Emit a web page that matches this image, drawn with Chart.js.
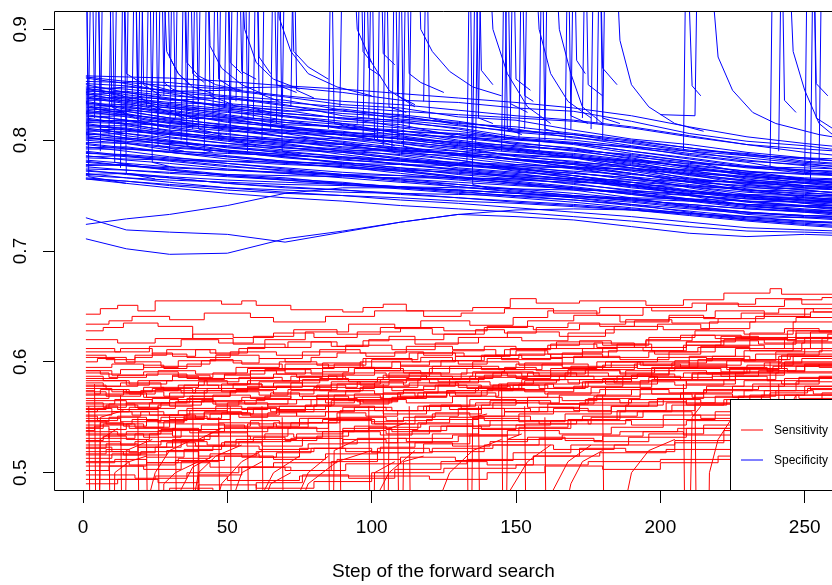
<!DOCTYPE html>
<html><head><meta charset="utf-8">
<script src="https://cdn.jsdelivr.net/npm/chart.js@4/dist/chart.umd.min.js"></script>
<style>html,body{margin:0;padding:0;background:#fff;overflow:hidden}canvas{display:block}</style>
</head><body><canvas id="c" width="832" height="585"></canvas>
<script>
const xTicks = [0, 50, 100, 150, 200, 250];
const yTicks = [0.5, 0.6, 0.7, 0.8, 0.9];
const seriesNames = ['Sensitivity', 'Specificity'];
const seriesColors = ['#ff0000', '#0000ff'];
const xTitle = 'Step of the forward search';

// Specificity: main band lines sampled at these steps
const specSteps = [1,15,30,50,70,90,110,130,150,170,190,210,230,250,262];
const specLines = [
[.858,.857,.856,.853,.849,.846,.842,.838,.834,.829,.822,.812,.803,.797,.794],
[.856,.851,.843,.839,.832,.822,.817,.810,.801,.796,.788,.781,.770,.765,.760],
[.853,.852,.849,.846,.840,.835,.832,.827,.822,.818,.812,.804,.796,.789,.786],
[.850,.843,.838,.829,.822,.815,.806,.799,.791,.784,.775,.765,.756,.748,.745],
[.848,.846,.842,.833,.829,.824,.821,.815,.812,.806,.800,.793,.786,.780,.778],
[.846,.839,.837,.830,.824,.820,.812,.808,.801,.797,.790,.783,.776,.770,.768],
[.844,.844,.840,.837,.834,.830,.826,.823,.820,.817,.811,.803,.796,.792,.790],
[.842,.835,.831,.823,.816,.812,.804,.797,.792,.785,.777,.769,.760,.755,.752],
[.840,.837,.830,.827,.821,.815,.811,.805,.801,.797,.790,.784,.777,.773,.772],
[.838,.833,.826,.820,.811,.805,.797,.790,.783,.775,.767,.757,.749,.743,.740],
[.836,.836,.833,.828,.824,.820,.818,.813,.808,.805,.799,.793,.787,.783,.781],
[.834,.828,.823,.818,.813,.806,.801,.795,.790,.784,.778,.770,.763,.759,.757],
[.832,.830,.824,.817,.811,.807,.803,.796,.792,.788,.782,.776,.770,.766,.765],
[.830,.824,.817,.812,.803,.796,.789,.782,.775,.768,.760,.750,.741,.736,.733],
[.828,.827,.824,.820,.816,.811,.808,.806,.802,.798,.793,.787,.781,.778,.776],
[.826,.821,.815,.810,.803,.799,.793,.788,.782,.776,.770,.762,.755,.751,.749],
[.824,.823,.818,.811,.807,.802,.799,.793,.789,.785,.779,.772,.767,.764,.762],
[.822,.818,.816,.812,.808,.805,.801,.798,.795,.791,.787,.781,.775,.772,.770],
[.820,.815,.808,.801,.796,.790,.784,.779,.772,.766,.759,.751,.744,.740,.738],
[.818,.817,.812,.805,.801,.797,.792,.787,.783,.778,.773,.766,.760,.757,.755],
[.816,.815,.813,.811,.809,.807,.805,.803,.800,.797,.794,.790,.786,.784,.783],
[.814,.809,.805,.799,.793,.789,.783,.778,.774,.768,.762,.755,.749,.746,.744],
[.812,.811,.806,.803,.799,.794,.791,.787,.783,.779,.775,.769,.764,.761,.760],
[.810,.804,.799,.791,.785,.779,.773,.767,.761,.755,.748,.740,.733,.730,.728],
[.808,.808,.805,.801,.798,.796,.793,.790,.787,.784,.781,.777,.772,.769,.768],
[.806,.802,.799,.794,.790,.785,.782,.778,.774,.770,.766,.760,.755,.752,.751],
[.804,.801,.796,.791,.787,.783,.778,.773,.769,.765,.759,.753,.747,.744,.742],
[.802,.799,.797,.795,.793,.791,.790,.788,.786,.784,.782,.779,.776,.775,.774],
[.800,.797,.791,.786,.781,.777,.772,.767,.763,.758,.752,.746,.740,.737,.736],
[.798,.797,.793,.790,.787,.784,.781,.778,.775,.772,.769,.765,.761,.759,.758],
[.796,.792,.789,.785,.781,.778,.774,.770,.767,.763,.759,.754,.750,.748,.747],
[.794,.790,.785,.779,.774,.769,.764,.758,.753,.748,.742,.735,.728,.724,.722],
[.792,.792,.790,.788,.786,.784,.782,.780,.778,.776,.773,.770,.767,.765,.764],
[.790,.786,.783,.779,.775,.771,.768,.764,.760,.756,.752,.747,.742,.740,.739],
[.788,.787,.784,.781,.778,.776,.773,.771,.768,.765,.762,.759,.755,.754,.753],
[.786,.782,.779,.774,.770,.766,.762,.758,.754,.750,.745,.740,.735,.732,.731],
[.784,.783,.782,.781,.780,.779,.778,.777,.776,.775,.774,.773,.771,.770,.770],
[.782,.779,.776,.773,.770,.768,.765,.762,.759,.756,.753,.750,.747,.746,.745],
[.780,.777,.773,.768,.764,.760,.756,.752,.748,.744,.739,.734,.729,.726,.725],
[.778,.777,.775,.773,.771,.769,.768,.766,.764,.762,.760,.758,.757,.756,.756],
[.776,.773,.770,.767,.764,.761,.758,.755,.752,.749,.746,.742,.738,.736,.735],
[.774,.773,.771,.769,.768,.767,.766,.766,.765,.765,.764,.763,.762,.762,.762],
[.772,.770,.767,.764,.762,.760,.757,.755,.752,.750,.747,.745,.742,.741,.741],
[.770,.766,.762,.757,.753,.750,.746,.743,.739,.735,.731,.726,.721,.719,.718],
[.768,.766,.764,.762,.760,.759,.758,.757,.756,.755,.754,.752,.751,.750,.750],
[.766,.763,.759,.755,.752,.750,.748,.745,.743,.740,.737,.734,.731,.730,.730],
[.765,.763,.760,.757,.755,.753,.752,.751,.750,.749,.748,.747,.745,.744,.744],
[.765,.761,.757,.752,.748,.745,.741,.738,.735,.731,.727,.722,.718,.717,.716],
[.724,.729,.733,.741,.752,.757,.757,.755,.752,.748,.744,.739,.735,.732,.731],
[.730,.719,.717,.715,.708,.717,.726,.733,.737,.738,.737,.733,.728,.725,.723],
[.711,.702,.697,.698,.711,.718,.726,.733,.731,.728,.722,.716,.713,.715,.714],
[.857,.853,.852,.847,.848,.843,.836,.834,.829,.826,.817,.806,.799,.795,.791],
[.851,.849,.844,.845,.839,.832,.829,.821,.818,.809,.801,.796,.789,.784,.781],
[.847,.841,.836,.838,.831,.826,.823,.817,.809,.805,.797,.790,.782,.777,.774],
[.845,.848,.845,.840,.836,.827,.819,.816,.810,.802,.798,.791,.788,.781,.779],
[.843,.838,.834,.832,.826,.828,.822,.814,.807,.803,.795,.788,.784,.779,.776],
[.841,.843,.837,.831,.827,.819,.816,.811,.803,.800,.794,.786,.780,.771,.768],
[.839,.834,.829,.825,.822,.817,.814,.803,.798,.792,.786,.778,.772,.765,.761],
[.837,.839,.832,.826,.818,.814,.806,.802,.797,.793,.785,.780,.776,.773,.771],
[.835,.829,.827,.821,.818,.810,.808,.805,.796,.790,.784,.775,.769,.764,.764],
[.833,.832,.829,.822,.814,.812,.809,.800,.794,.791,.783,.776,.768,.761,.758],
[.831,.826,.820,.819,.812,.804,.802,.798,.793,.786,.780,.771,.766,.762,.759],
[.829,.831,.825,.816,.812,.808,.801,.795,.791,.787,.781,.774,.769,.763,.761],
[.827,.823,.819,.814,.806,.805,.797,.792,.786,.780,.777,.773,.765,.759,.755],
[.825,.826,.820,.813,.809,.801,.798,.794,.785,.781,.775,.768,.763,.757,.755],
[.823,.818,.813,.808,.806,.798,.791,.788,.782,.778,.770,.763,.758,.753,.750],
[.821,.822,.816,.809,.803,.801,.795,.786,.783,.779,.772,.764,.762,.758,.757],
[.819,.814,.809,.806,.799,.793,.790,.784,.778,.775,.770,.762,.754,.749,.746],
[.817,.818,.811,.803,.800,.796,.788,.786,.780,.774,.767,.762,.759,.755,.752],
[.815,.810,.806,.800,.795,.792,.786,.779,.777,.771,.764,.758,.751,.746,.743],
[.813,.813,.807,.802,.797,.790,.787,.782,.774,.770,.766,.758,.753,.750,.748],
[.811,.806,.802,.797,.794,.787,.781,.777,.773,.766,.760,.754,.748,.743,.741],
[.809,.810,.803,.797,.791,.789,.783,.775,.771,.768,.762,.754,.750,.747,.746],
[.807,.802,.798,.794,.788,.782,.779,.773,.767,.763,.758,.751,.745,.740,.737],
[.805,.806,.800,.793,.789,.785,.778,.774,.770,.764,.757,.752,.749,.745,.744],
[.803,.798,.794,.790,.784,.780,.775,.769,.765,.761,.754,.747,.741,.737,.734],
[.801,.801,.796,.789,.785,.780,.775,.772,.766,.760,.755,.750,.745,.741,.739],
[.797,.793,.789,.785,.780,.775,.772,.766,.761,.757,.751,.745,.739,.735,.732],
[.793,.794,.789,.783,.779,.776,.770,.765,.762,.757,.751,.746,.742,.738,.736],
[.789,.785,.782,.777,.772,.769,.765,.760,.756,.752,.747,.741,.735,.731,.729],
[.785,.786,.781,.776,.773,.768,.763,.760,.755,.750,.746,.742,.738,.735,.734],
[.781,.777,.774,.769,.766,.761,.758,.754,.749,.746,.741,.736,.731,.727,.725],
[.777,.778,.773,.768,.765,.762,.757,.753,.750,.746,.742,.738,.734,.732,.731],
[.773,.769,.766,.761,.758,.755,.752,.748,.744,.741,.737,.732,.727,.723,.721],
[.769,.770,.766,.761,.757,.755,.751,.748,.745,.742,.738,.734,.730,.727,.726]
];

// Specificity: stretches where a line jumps up to 1 and comes back down ([step, value])
const specSpikes = [
[[1,1],[2,.767],[15,.761]],
[[1,1],[2,.802],[15,.798]],
[[1,1],[3,1],[4,.828],[15,.824]],
[[2,.84],[3,1],[5,1],[6,.845],[14,.84]],
[[4,.82],[5,1],[6,.81],[14,.806]],
[[6,.79],[7,1],[9,1],[10,.83],[18,.82]],
[[9,.805],[10,1],[11,.78],[20,.776]],
[[11,.83],[12,1],[14,1],[15,.86],[20,.852],[30,.845]],
[[13,.775],[14,1],[15,.77],[25,.765]],
[[15,.8],[16,1],[18,1],[19,.84],[25,.83],[35,.82]],
[[17,.83],[18,1],[19,.818],[28,.812]],
[[19,.8],[20,1],[21,.85],[27,.84]],
[[20,.81],[21,1],[23,1],[24,.78],[32,.775]],
[[22,.83],[23,1],[27,1],[29,.88],[33,.86],[38,.848],[45,.842]],
[[24,.845],[25,1],[26,.795],[35,.79]],
[[26,.81],[27,1],[28,.852],[31,.846],[40,.838]],
[[28,.84],[29,1],[30,.875],[33,.86],[37,.85]],
[[30,.79],[31,1],[32,.825],[40,.818]],
[[32,.82],[33,1],[35,1],[36,.87],[40,.858],[46,.85],[55,.845]],
[[34,.8],[35,1],[36,.795],[45,.789]],
[[36,.825],[37,1],[38,.86],[42,.852]],
[[38,.81],[39,1],[40,.81],[48,.805]],
[[40,.835],[41,1],[43,1],[44,.885],[48,.865],[55,.85],[62,.842]],
[[42,.79],[43,1],[44,.84],[52,.832]],
[[45,.82],[46,1],[47,.855],[53,.845]],
[[47,.8],[48,1],[50,1],[51,.87],[55,.86]],
[[49,.83],[50,1],[51,.8],[60,.795]],
[[51,.81],[52,1],[54,1],[56,.9],[60,.87],[66,.855],[75,.846]],
[[53,.835],[54,1],[55,.862],[60,.855]],
[[55,.82],[56,1],[57,.83],[65,.825]],
[[57,.79],[58,1],[60,1],[61,.875],[65,.86]],
[[59,.82],[60,1],[61,.842],[68,.835]],
[[62,.8],[63,1],[66,1],[68,.91],[72,.88],[78,.86],[88,.848],[100,.84]],
[[65,.81],[66,1],[67,.85],[74,.843]],
[[67,.815],[68,1],[69,.79],[78,.785]],
[[69,.82],[70,1],[72,1],[73,.88],[78,.866],[85,.855]],
[[72,.83],[73,1],[74,.845],[80,.838]],
[[85,.81],[86,1],[87,.815],[95,.81]],
[[89,.83],[90,1],[93,1],[95,.9],[100,.87],[106,.845],[115,.83]],
[[95,.815],[96,1],[97,.88],[100,.87]],
[[97,.8],[98,1],[99,.865],[103,.858]],
[[99,.82],[100,1],[101,.8],[108,.795]],
[[102,.8],[103,1],[104,.878],[108,.868]],
[[104,.795],[105,1],[106,.83],[112,.825]],
[[107,.79],[108,1],[109,.84],[115,.832]],
[[109,.8],[110,1],[111,.794],[118,.79]],
[[111,.82],[112,1],[113,.86],[117,.852],[125,.843]],
[[113,.81],[114,1],[116,1],[117,.9],[121,.88],[127,.862],[135,.848],[145,.84]],
[[118,.835],[119,1],[120,.82],[128,.815]],
[[133,.78],[134,1],[135,.76],[140,.757]],
[[135,.8],[136,1],[137,.82],[142,.815]],
[[136,.79],[137,1],[138,.863],[142,.85]],
[[137,.82],[138,1],[140,1],[142,.9],[147,.86],[154,.83],[162,.815]],
[[145,.79],[146,1],[147,.81],[152,.805]],
[[146,.8],[147,1],[148,.833],[154,.825]],
[[148,.81],[149,1],[150,.855],[155,.845]],
[[151,.8],[152,1],[153,.84],[156,.835]],
[[153,.81],[154,1],[156,1],[158,.9],[162,.86],[168,.835],[176,.82]],
[[158,.79],[159,1],[160,.81],[166,.806]],
[[160,.8],[161,1],[163,1],[165,.9],[169,.86],[173,.83],[180,.815]],
[[167,.8],[168,1],[169,.822],[175,.815]],
[[169,.81],[170,1],[171,.872],[174,.86]],
[[173,.82],[174,1],[175,.85],[180,.84]],
[[176,.81],[177,1],[179,1],[180,.865],[185,.85]],
[[178,.815],[179,1],[180,.82],[186,.815]],
[[180,.8],[181,1],[184,1],[186,.89],[190,.85],[196,.83],[205,.815],[215,.808]],
[[208,.79],[209,1],[211,.849],[214,.84]],
[[200,.823],[212,.822],[213,1],[216,1],[220,.875],[225,.845],[232,.825],[240,.815],[255,.805],[262,.802]],
[[238,.775],[239,1],[242,1],[243,.836],[247,.825]],
[[241,.79],[242,1],[244,1],[246,.88],[250,.845],[255,.815],[262,.8]],
[[250,.77],[251,1],[253,1],[254,.851],[258,.84]],
[[252,.765],[253,1],[254,.82],[260,.81]],
[[255,.78],[256,1],[262,1]]
];

// Sensitivity: step lines ([step where a level starts, level])
const sensLines = [
[[1,.643],[6,.648],[12,.651],[19,.646],[25,.655],[48,.652],[55,.655],[60,.651],[72,.647],[90,.645],[97,.649],[104,.652],[112,.646],[135,.649],[148,.657],[157,.653],[172,.655],[195,.651],[208,.656],[222,.662],[238,.666],[242,.661],[262,.661]],
[[1,.634],[9,.637],[17,.641],[30,.638],[42,.644],[58,.64],[66,.636],[84,.641],[101,.646],[118,.641],[131,.644],[146,.648],[163,.644],[179,.649],[197,.646],[216,.652],[233,.657],[249,.652],[262,.652]],
[[1,.628],[7,.631],[14,.635],[26,.632],[38,.621],[52,.616],[63,.62],[77,.627],[92,.634],[108,.63],[121,.625],[139,.631],[154,.637],[170,.642],[186,.636],[203,.64],[219,.646],[236,.641],[252,.645],[262,.645]],
[[1,.612],[11,.609],[23,.614],[34,.62],[47,.617],[59,.623],[73,.629],[88,.625],[103,.631],[117,.637],[134,.633],[149,.64],[161,.646],[178,.642],[194,.649],[211,.653],[227,.65],[243,.656],[256,.658],[262,.658]],
[[1,.609],[13,.612],[24,.607],[36,.604],[51,.609],[67,.606],[82,.611],[96,.608],[112,.614],[128,.611],[143,.606],[160,.612],[177,.617],[191,.613],[209,.618],[226,.622],[244,.619],[258,.625],[262,.625]],
[[1,.606],[8,.602],[18,.606],[29,.611],[44,.608],[57,.613],[71,.618],[86,.614],[99,.62],[115,.616],[130,.622],[147,.627],[165,.623],[181,.629],[199,.634],[214,.63],[231,.636],[247,.64],[262,.64]],
[[1,.604],[15,.6],[27,.596],[41,.601],[55,.598],[69,.594],[83,.599],[97,.603],[114,.6],[129,.605],[145,.602],[162,.607],[180,.604],[196,.609],[213,.613],[231,.61],[249,.617],[262,.617]],
[[1,.595],[10,.598],[21,.595],[33,.601],[46,.606],[61,.603],[76,.609],[91,.615],[107,.611],[122,.617],[137,.622],[152,.619],[168,.626],[184,.632],[201,.629],[217,.636],[233,.641],[250,.648],[262,.648]],
[[1,.59],[9,.586],[22,.589],[36,.585],[49,.589],[63,.593],[79,.589],[94,.594],[111,.59],[127,.596],[144,.593],[159,.598],[175,.595],[192,.6],[210,.597],[228,.602],[245,.605],[262,.605]],
[[1,.585],[12,.588],[26,.592],[39,.589],[53,.595],[68,.6],[81,.597],[98,.603],[113,.608],[129,.605],[146,.611],[162,.616],[178,.613],[195,.619],[211,.624],[228,.621],[244,.628],[262,.632]],
[[1,.583],[16,.58],[29,.583],[43,.579],[57,.583],[72,.587],[88,.584],[104,.588],[119,.585],[136,.59],[152,.587],[169,.592],[186,.589],[203,.594],[221,.591],[239,.596],[255,.598],[262,.598]],
[[1,.581],[7,.578],[19,.583],[31,.588],[44,.585],[58,.592],[70,.598],[85,.595],[100,.602],[116,.608],[132,.605],[148,.612],[164,.618],[180,.615],[196,.622],[212,.628],[229,.625],[246,.636],[262,.643]],
[[1,.578],[13,.581],[27,.577],[40,.582],[54,.586],[69,.583],[85,.588],[101,.592],[117,.589],[133,.594],[150,.598],[166,.595],[183,.6],[199,.604],[216,.601],[233,.607],[250,.612],[262,.612]],
[[1,.576],[10,.573],[24,.576],[38,.572],[53,.575],[67,.578],[82,.574],[97,.578],[113,.581],[130,.577],[147,.581],[164,.584],[181,.58],[199,.584],[218,.587],[237,.583],[255,.587],[262,.587]],
[[1,.573],[8,.569],[20,.574],[33,.579],[47,.576],[61,.582],[75,.587],[91,.584],[106,.59],[121,.596],[138,.593],[153,.599],[170,.605],[186,.602],[203,.609],[219,.615],[236,.612],[252,.627],[262,.627]],
[[1,.57],[14,.573],[28,.569],[42,.574],[57,.578],[72,.575],[88,.58],[103,.584],[120,.581],[137,.586],[154,.59],[171,.587],[188,.592],[205,.596],[223,.593],[241,.599],[262,.603]],
[[1,.567],[9,.571],[21,.568],[35,.574],[48,.58],[62,.577],[76,.584],[90,.59],[105,.587],[120,.594],[135,.6],[151,.597],[166,.604],[182,.61],[198,.607],[214,.614],[231,.62],[247,.628],[262,.636]],
[[1,.565],[15,.562],[30,.566],[45,.562],[60,.566],[76,.569],[92,.565],[109,.569],[126,.572],[143,.568],[161,.572],[179,.575],[197,.571],[215,.575],[234,.578],[252,.575],[262,.578]],
[[1,.562],[11,.566],[24,.563],[37,.569],[51,.574],[66,.571],[80,.577],[95,.582],[111,.579],[127,.585],[142,.59],[158,.587],[175,.593],[191,.598],[207,.595],[223,.601],[240,.609],[256,.621],[262,.621]],
[[1,.56],[12,.557],[26,.561],[41,.565],[56,.562],[71,.566],[87,.57],[103,.567],[119,.572],[136,.576],[153,.573],[170,.578],[187,.582],[205,.579],[222,.584],[240,.59],[262,.595]],
[[1,.557],[8,.561],[19,.558],[32,.564],[45,.57],[58,.567],[72,.574],[86,.58],[101,.577],[116,.584],[131,.59],[147,.587],[162,.594],[178,.6],[194,.597],[210,.605],[226,.612],[243,.622],[262,.63]],
[[1,.555],[17,.552],[33,.556],[50,.553],[67,.557],[84,.56],[101,.556],[118,.56],[136,.563],[154,.559],[172,.563],[190,.566],[209,.562],[228,.566],[247,.57],[262,.57]],
[[1,.552],[10,.555],[23,.552],[36,.558],[50,.563],[64,.56],[79,.566],[94,.571],[110,.568],[126,.574],[142,.579],[158,.576],[174,.582],[190,.587],[207,.584],[224,.59],[241,.605],[262,.614]],
[[1,.549],[13,.546],[27,.55],[42,.554],[58,.551],[74,.555],[90,.559],[107,.556],[124,.561],[141,.565],[158,.562],[175,.567],[193,.571],[211,.568],[229,.574],[247,.582],[262,.588]],
[[1,.546],[9,.55],[22,.547],[36,.553],[50,.558],[65,.555],[80,.561],[96,.566],[112,.563],[128,.569],[144,.574],[160,.571],[176,.577],[193,.583],[209,.58],[226,.588],[243,.6],[262,.607]],
[[1,.543],[16,.54],[32,.544],[49,.541],[66,.545],[83,.548],[101,.544],[119,.548],[137,.551],[155,.547],[173,.551],[192,.555],[211,.552],[230,.556],[249,.562],[262,.562]],
[[1,.54],[7,.544],[18,.541],[30,.548],[42,.555],[55,.552],[68,.56],[81,.567],[95,.564],[109,.572],[123,.579],[138,.576],[152,.584],[167,.59],[182,.587],[197,.595],[213,.602],[229,.61],[246,.618],[262,.624]],
[[1,.537],[12,.534],[26,.538],[41,.543],[56,.54],[72,.545],[88,.55],[105,.547],[121,.553],[138,.558],[155,.555],[172,.561],[189,.566],[207,.572],[225,.578],[243,.585],[262,.598]],
[[1,.534],[15,.537],[31,.533],[47,.537],[64,.541],[81,.537],[99,.541],[117,.544],[135,.54],[153,.544],[171,.547],[190,.543],[209,.547],[228,.55],[247,.552],[262,.552]],
[[1,.531],[9,.535],[21,.532],[34,.539],[47,.545],[61,.542],[75,.549],[89,.556],[104,.553],[119,.56],[134,.566],[150,.563],[165,.57],[181,.577],[197,.584],[213,.59],[230,.597],[246,.605],[262,.611]],
[[1,.528],[13,.525],[27,.529],[42,.533],[58,.53],[74,.535],[90,.54],[107,.537],[124,.542],[141,.547],[158,.544],[176,.55],[194,.556],[212,.562],[231,.57],[250,.578],[262,.583]],
[[1,.525],[18,.528],[36,.524],[54,.528],[72,.531],[90,.527],[109,.531],[128,.534],[147,.53],[166,.534],[186,.537],[206,.54],[226,.538],[246,.544],[262,.544]],
[[1,.522],[8,.526],[19,.523],[31,.53],[44,.536],[57,.533],[71,.54],[85,.547],[100,.544],[115,.551],[130,.558],[146,.555],[161,.562],[177,.569],[193,.576],[209,.583],[226,.59],[243,.597],[262,.603]],
[[1,.519],[14,.516],[29,.52],[45,.524],[61,.521],[78,.526],[95,.531],[112,.528],[130,.533],[147,.538],[165,.535],[183,.541],[201,.548],[219,.555],[238,.563],[256,.572],[262,.575]],
[[1,.516],[20,.519],[40,.515],[60,.519],[80,.522],[100,.518],[121,.522],[142,.525],[163,.521],[184,.525],[205,.529],[226,.532],[247,.535],[262,.537]],
[[1,.513],[10,.517],[22,.514],[35,.521],[48,.527],[62,.524],[76,.531],[90,.538],[105,.535],[120,.542],[135,.549],[151,.546],[167,.553],[183,.56],[199,.567],[215,.574],[232,.58],[248,.586],[262,.59]],
[[1,.51],[16,.507],[32,.511],[49,.515],[66,.512],[84,.517],[102,.522],[120,.519],[139,.525],[158,.531],[177,.528],[196,.535],[215,.543],[234,.552],[253,.562],[262,.566]],
[[1,.506],[22,.509],[44,.505],[66,.509],[88,.512],[110,.508],[133,.512],[156,.515],[179,.518],[202,.521],[225,.524],[248,.527],[262,.528]],
[[1,.502],[9,.506],[21,.503],[34,.51],[47,.517],[61,.514],[75,.522],[90,.53],[105,.527],[121,.535],[137,.543],[153,.54],[169,.548],[185,.556],[202,.563],[219,.569],[236,.574],[252,.578],[262,.58]],
[[1,.498],[18,.495],[36,.5],[54,.505],[72,.502],[91,.508],[110,.514],[129,.511],[149,.518],[169,.525],[189,.532],[209,.54],[229,.547],[249,.554],[262,.558]],
[[1,.494],[25,.497],[50,.493],[75,.497],[100,.5],[125,.504],[150,.507],[175,.51],[200,.512],[225,.514],[262,.515]],
[[1,.49],[12,.494],[26,.491],[40,.498],[55,.505],[70,.502],[86,.51],[102,.518],[118,.526],[134,.534],[151,.541],[168,.548],[186,.555],[204,.561],[223,.566],[243,.57],[262,.573]],
[[1,.6],[5,.603],[11,.599],[18,.604],[24,.608],[31,.605],[39,.611],[46,.607],[54,.612],[63,.616],[70,.613],[79,.618],[88,.614],[97,.619],[106,.623],[115,.62],[125,.625],[136,.629],[146,.626],[157,.631],[168,.635],[179,.632],[191,.637],[203,.642],[215,.639],[228,.644],[241,.648],[253,.645],[262,.645]],
[[1,.592],[6,.589],[13,.593],[21,.597],[28,.594],[36,.598],[44,.602],[52,.599],[61,.603],[70,.6],[79,.604],[88,.608],[98,.605],[108,.609],[118,.606],[128,.61],[139,.614],[150,.611],[161,.615],[172,.619],[183,.616],[195,.62],[207,.624],[219,.621],[231,.626],[243,.63],[255,.627],[262,.627]],
[[1,.587],[7,.583],[15,.579],[23,.583],[31,.587],[40,.584],[49,.588],[58,.592],[67,.589],[77,.594],[87,.598],[97,.595],[107,.6],[117,.604],[128,.601],[139,.606],[150,.61],[161,.607],[173,.612],[185,.616],[197,.613],[209,.618],[221,.623],[234,.62],[247,.626],[262,.63]],
[[1,.579],[8,.575],[16,.571],[25,.575],[34,.572],[43,.576],[52,.58],[62,.577],[72,.581],[82,.585],[92,.582],[102,.586],[113,.59],[124,.587],[135,.591],[146,.595],[157,.592],[169,.596],[181,.6],[193,.597],[205,.601],[218,.605],[231,.602],[244,.607],[262,.611]],
[[1,.571],[6,.575],[14,.572],[22,.568],[30,.572],[39,.576],[48,.573],[57,.577],[66,.581],[76,.578],[86,.582],[96,.579],[106,.583],[117,.587],[128,.584],[139,.588],[150,.585],[162,.589],[174,.593],[186,.59],[198,.594],[210,.598],[223,.595],[236,.599],[249,.603],[262,.603]],
[[1,.563],[7,.559],[15,.563],[24,.567],[33,.564],[42,.569],[51,.573],[61,.57],[71,.575],[81,.579],[91,.576],[101,.581],[112,.585],[123,.582],[134,.587],[145,.591],[156,.588],[168,.593],[180,.597],[192,.594],[204,.599],[216,.603],[229,.6],[242,.606],[255,.61],[262,.61]],
[[1,.558],[9,.562],[18,.559],[27,.563],[36,.567],[45,.564],[55,.568],[65,.572],[75,.569],[85,.573],[96,.577],[107,.574],[118,.578],[129,.582],[141,.579],[153,.583],[165,.587],[177,.584],[190,.588],[203,.592],[216,.589],[229,.594],[242,.598],[255,.595],[262,.595]],
[[1,.551],[5,.547],[12,.551],[20,.555],[28,.552],[37,.556],[46,.56],[55,.557],[64,.562],[74,.566],[84,.563],[94,.568],[104,.572],[115,.569],[126,.574],[137,.578],[148,.575],[160,.58],[172,.584],[184,.581],[196,.586],[208,.59],[221,.587],[234,.592],[247,.596],[262,.6]],
[[1,.547],[8,.544],[17,.548],[26,.545],[35,.549],[44,.553],[54,.55],[64,.554],[74,.551],[84,.555],[94,.559],[105,.556],[116,.56],[127,.557],[138,.561],[150,.565],[162,.562],[174,.566],[186,.563],[199,.567],[212,.571],[225,.568],[238,.572],[251,.576],[262,.576]],
[[1,.541],[6,.545],[14,.542],[22,.547],[30,.552],[39,.549],[48,.554],[57,.559],[67,.556],[77,.561],[87,.566],[97,.563],[107,.568],[118,.573],[129,.57],[140,.575],[151,.58],[163,.577],[175,.582],[187,.587],[199,.584],[211,.589],[224,.594],[237,.591],[250,.597],[262,.601]],
[[1,.535],[9,.531],[18,.535],[27,.539],[37,.536],[47,.54],[57,.544],[67,.541],[78,.545],[89,.549],[100,.546],[111,.55],[122,.554],[134,.551],[146,.555],[158,.559],[170,.556],[183,.56],[196,.564],[209,.561],[222,.566],[235,.57],[248,.567],[262,.572]],
[[1,.529],[7,.533],[15,.53],[23,.535],[31,.54],[40,.537],[49,.542],[58,.547],[68,.544],[78,.549],[88,.554],[98,.551],[109,.556],[120,.561],[131,.558],[142,.563],[154,.568],[166,.565],[178,.57],[190,.575],[203,.572],[216,.578],[229,.583],[242,.58],[255,.586],[262,.586]],
[[1,.523],[10,.519],[19,.523],[29,.527],[39,.524],[49,.528],[59,.532],[70,.529],[81,.533],[92,.537],[103,.534],[114,.538],[126,.542],[138,.539],[150,.543],[162,.547],[175,.544],[188,.548],[201,.552],[214,.549],[227,.554],[240,.558],[253,.555],[262,.555]],
[[1,.517],[8,.521],[16,.518],[25,.523],[34,.528],[43,.525],[53,.53],[63,.535],[73,.532],[83,.537],[94,.542],[105,.539],[116,.545],[127,.55],[139,.547],[151,.553],[163,.558],[175,.555],[188,.561],[201,.566],[214,.563],[227,.569],[240,.574],[253,.571],[262,.576]],
[[1,.509],[11,.512],[22,.509],[33,.513],[44,.517],[55,.514],[67,.518],[79,.522],[91,.519],[103,.523],[115,.527],[128,.524],[141,.528],[154,.532],[167,.529],[180,.533],[194,.537],[208,.534],[222,.538],[236,.542],[250,.539],[262,.543]],
[[1,.592],[10,.588],[21,.591],[33,.586],[45,.59],[57,.594],[70,.59],[83,.595],[96,.6],[110,.596],[124,.601],[138,.606],[152,.603],[166,.608],[180,.613],[194,.61],[208,.615],[222,.62],[236,.617],[250,.622],[262,.622]],
[[1,.62],[12,.617],[25,.621],[38,.625],[52,.622],[66,.626],[80,.622],[95,.627],[110,.631],[125,.628],[140,.632],[156,.629],[172,.634],[188,.638],[204,.635],[220,.639],[236,.643],[252,.64],[262,.64]],
[[1,.574],[4,.571],[9,.575],[15,.572],[21,.577],[28,.574],[35,.579],[42,.583],[50,.58],[58,.585],[66,.589],[74,.586],[83,.591],[92,.595],[101,.592],[110,.597],[120,.601],[130,.598],[140,.603],[151,.607],[162,.604],[173,.609],[185,.613],[197,.61],[209,.615],[221,.619],[234,.616],[247,.621],[262,.624]],
[[1,.555],[5,.558],[10,.555],[16,.559],[23,.563],[30,.56],[38,.564],[46,.561],[54,.565],[63,.569],[72,.566],[81,.57],[91,.574],[101,.571],[111,.575],[122,.579],[133,.576],[144,.58],[156,.584],[168,.581],[180,.585],[192,.589],[205,.586],[218,.59],[231,.594],[244,.591],[262,.595]],
[[1,.538],[4,.542],[9,.539],[15,.544],[21,.541],[28,.546],[35,.551],[43,.548],[51,.553],[59,.558],[68,.555],[77,.56],[86,.565],[96,.562],[106,.567],[116,.572],[127,.569],[138,.574],[149,.579],[161,.576],[173,.582],[185,.587],[198,.584],[211,.59],[224,.595],[237,.592],[250,.598],[262,.602]],
[[1,.47],[15,.478],[30,.486],[45,.483],[60,.491],[76,.498],[92,.495],[108,.503],[124,.51],[140,.507],[156,.515],[172,.522],[188,.519],[205,.527],[222,.534],[239,.531],[262,.538]],
[[1,.48],[20,.484],[40,.489],[60,.486],[80,.492],[100,.497],[120,.494],[140,.5],[160,.506],[180,.503],[200,.509],[220,.515],[240,.512],[262,.518]]
];

// Sensitivity: stretches where a line drops out of range and climbs back ([step, value])
const sensDips = [
[[2,.56],[3,.3],[5,.3],[6,.53],[12,.54]],
[[4,.58],[5,.3],[6,.55],[14,.556]],
[[9,.54],[10,.3],[11,.5],[16,.51],[22,.515]],
[[13,.57],[14,.3],[15,.52],[24,.53]],
[[19,.55],[20,.3],[21,.46],[25,.5],[30,.52],[38,.53]],
[[22,.53],[23,.3],[27,.3],[29,.42],[33,.48],[38,.505],[45,.515]],
[[26,.56],[27,.3],[28,.49],[32,.5],[40,.51]],
[[32,.55],[33,.3],[35,.3],[36,.44],[40,.5],[46,.515],[55,.525]],
[[38,.57],[39,.3],[40,.53],[48,.54]],
[[40,.54],[41,.3],[43,.3],[44,.45],[48,.49],[55,.51],[62,.52]],
[[47,.55],[48,.3],[50,.3],[51,.47],[55,.5],[62,.51]],
[[51,.56],[52,.3],[54,.3],[56,.4],[60,.47],[66,.5],[75,.515]],
[[57,.54],[58,.3],[60,.3],[61,.46],[65,.49],[72,.5]],
[[62,.56],[63,.3],[66,.3],[68,.38],[72,.45],[78,.49],[88,.51],[100,.52]],
[[69,.55],[70,.3],[72,.3],[73,.47],[78,.5],[85,.515]],
[[85,.57],[86,.3],[87,.52],[95,.53]],
[[89,.55],[90,.3],[93,.3],[95,.41],[100,.47],[106,.5],[115,.52]],
[[99,.56],[100,.3],[101,.5],[108,.51]],
[[104,.58],[105,.3],[106,.54],[112,.545]],
[[109,.55],[110,.3],[111,.51],[118,.515]],
[[113,.56],[114,.3],[116,.3],[117,.41],[121,.46],[127,.5],[135,.52],[145,.53]],
[[133,.57],[134,.3],[135,.55],[140,.553]],
[[137,.56],[138,.3],[140,.3],[142,.42],[147,.48],[154,.51],[162,.525]],
[[145,.58],[146,.3],[147,.53],[152,.535]],
[[153,.56],[154,.3],[156,.3],[158,.43],[162,.48],[168,.51],[176,.525]],
[[160,.55],[161,.3],[163,.3],[165,.44],[169,.49],[173,.51],[180,.52]],
[[180,.57],[181,.3],[184,.3],[186,.45],[190,.5],[196,.52],[205,.53]],
[[208,.58],[209,.3],[211,.55],[214,.56]],
[[212,.57],[213,.3],[216,.3],[217,.5],[220,.53],[225,.55],[232,.56]],
[[238,.6],[239,.3],[242,.3],[243,.55],[247,.57]],
[[241,.58],[242,.3],[244,.3],[246,.47],[250,.52],[255,.55],[262,.56]]
];

const FONT = "'Liberation Sans', Arial, Helvetica, sans-serif";
const datasets = [];
sensLines.forEach(l => datasets.push({data: l, borderColor: seriesColors[0], stepped: 'before'}));
sensDips.forEach(l => datasets.push({data: l, borderColor: seriesColors[0]}));
specLines.forEach(l => datasets.push({data: l.map((v, i) => [specSteps[i], v]), borderColor: seriesColors[1]}));
specSpikes.forEach(l => datasets.push({data: l, borderColor: seriesColors[1]}));
datasets.forEach(d => { d.borderWidth = 1; d.pointRadius = 0; d.fill = false; d.tension = 0; });

const framePlugin = {
  id: 'frame',
  afterDatasetsDraw(chart) {
    const {ctx, chartArea: a} = chart;
    ctx.save();
    ctx.strokeStyle = '#000'; ctx.lineWidth = 1;
    ctx.beginPath();
    ctx.moveTo(chart.width + 5, a.top + 0.5);
    ctx.lineTo(a.left - 0.5, a.top + 0.5);
    ctx.lineTo(a.left - 0.5, a.bottom - 0.5);
    ctx.lineTo(chart.width + 5, a.bottom - 0.5);
    ctx.stroke();
    // legend box (bottom right)
    const lx = a.right - 101.5, ly = a.bottom - 91.5, lw = 130, lh = 91;
    ctx.fillStyle = '#fff';
    ctx.fillRect(lx, ly, lw, lh);
    ctx.strokeRect(lx, ly, lw, lh);
    ctx.font = '12px ' + FONT;
    ctx.textBaseline = 'middle';
    ctx.textAlign = 'left';
    seriesNames.forEach((name, i) => {
      const y = ly + 30.5 + i * 30;
      ctx.strokeStyle = seriesColors[i];
      ctx.beginPath(); ctx.moveTo(lx + 10.5, y); ctx.lineTo(lx + 32.5, y); ctx.stroke();
      ctx.fillStyle = '#000';
      ctx.fillText(name, lx + 43.5, y + 0.5);
    });
    ctx.restore();
  }
};

function noPad(s) { s.paddingTop = 0; s.paddingBottom = 0; s.paddingLeft = 0; s.paddingRight = 0; }

new Chart(document.getElementById('c'), {
  type: 'line',
  data: {datasets},
  plugins: [framePlugin],
  options: {
    responsive: false, animation: false, events: [],
    layout: {padding: {top: 11, left: 0, right: 0, bottom: 0}},
    plugins: {legend: {display: false}, tooltip: {enabled: false}},
    scales: {
      x: {
        type: 'linear', min: -9.7, max: 259.46,
        afterFit(s) { s.height = 94; noPad(s); },
        afterBuildTicks(s) { s.ticks = xTicks.map(v => ({value: v})); },
        grid: {display: true, drawOnChartArea: false, drawTicks: true, tickLength: 12, color: '#000', lineWidth: 1},
        border: {display: false},
        ticks: {font: {family: FONT, size: 19}, color: '#000', padding: 13, maxRotation: 0, minRotation: 0, autoSkip: false, callback: v => String(v)},
        title: {display: true, text: xTitle, color: '#000', font: {family: FONT, size: 19}, padding: {top: 0, bottom: 2}}
      },
      y: {
        type: 'linear', min: 0.4835, max: 0.9165,
        afterFit(s) { s.width = 55; noPad(s); },
        afterBuildTicks(s) { s.ticks = yTicks.map(v => ({value: v})); },
        grid: {display: true, drawOnChartArea: false, drawTicks: true, tickLength: 12, color: '#000', lineWidth: 1},
        border: {display: false},
        ticks: {font: {family: FONT, size: 19}, color: '#000', padding: 9, minRotation: 90, maxRotation: 90, crossAlign: 'center', autoSkip: false, callback: v => v.toFixed(1)}
      }
    }
  }
});
</script>
</body></html>
